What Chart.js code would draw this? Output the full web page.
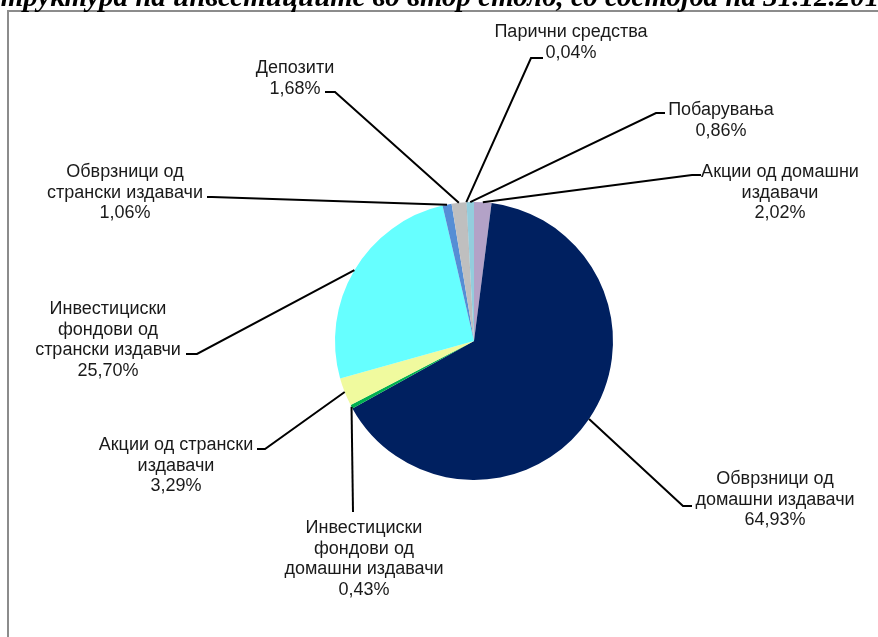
<!DOCTYPE html>
<html>
<head>
<meta charset="utf-8">
<script src="https://cdn.jsdelivr.net/npm/chart.js@4.4.1/dist/chart.umd.min.js"></script>
<style>
  html, body { margin: 0; padding: 0; background: #fff; overflow: hidden; }
  #frame { position: absolute; left: 7px; top: 10px; width: 900px; height: 700px;
           border-left: 2px solid #8c8c8c; border-top: 2px solid #8c8c8c; }
  canvas { position: absolute; left: 0; top: 0; }
</style>
</head>
<body>
<div id="frame"></div>
<canvas id="pie" width="878" height="637"></canvas>
<script>
// slices, clockwise from 12 o'clock
const categories = [
  "Акции од домашни\nиздавачи",
  "Обврзници од\nдомашни издавачи",
  "Инвестициски\nфондови од\nдомашни издавачи",
  "Акции од странски\nиздавачи",
  "Инвестициски\nфондови од\nстрански издавчи",
  "Обврзници од\nстрански издавачи",
  "Депозити",
  "Парични средства",
  "Побарувања"
];
const values = [2.02, 64.93, 0.43, 3.29, 25.70, 1.06, 1.68, 0.04, 0.86];
const colors = ["#b3a2c7", "#002060", "#00b050", "#f0fa9e", "#66ffff",
                "#558ed5", "#bfbfbf", "#7f7f7f", "#93cddd"];
const title = "Структура на инвестициите во втор столб, со состојба на 31.12.2012";

// label placement: text centre x, first line y, leader elbow and end
const labelPos = [
  { cx: 780, y: 172, elbow: [692, 175], end: [701, 175] },
  { cx: 775, y: 479, elbow: [683, 506], end: [692, 506] },
  { cx: 364, y: 528, elbow: [353, 512], end: [353, 512] },
  { cx: 176, y: 445, elbow: [265, 449], end: [257, 449] },
  { cx: 108, y: 309, elbow: [197, 354], end: [186, 354] },
  { cx: 125, y: 172, elbow: [212, 197], end: [207, 197] },
  { cx: 295, y: 68,  elbow: [335, 92],  end: [325, 92] },
  { cx: 571, y: 32,  elbow: [531, 58],  end: [543, 58] },
  { cx: 721, y: 110, elbow: [656, 113], end: [665, 113] }
];

function pct(v) {
  return v.toFixed(2).replace(".", ",") + "%";
}

const labelsPlugin = {
  id: "leaderLabels",
  afterDraw(chart) {
    const ctx = chart.ctx;
    const meta = chart.getDatasetMeta(0);
    ctx.save();
    ctx.strokeStyle = "#000";
    ctx.lineWidth = 2;
    meta.data.forEach((arc, i) => {
      const p = labelPos[i];
      const mid = (arc.startAngle + arc.endAngle) / 2;
      const px = arc.x + Math.cos(mid) * arc.outerRadius;
      const py = arc.y + Math.sin(mid) * arc.outerRadius;
      ctx.beginPath();
      ctx.moveTo(px, py);
      ctx.lineTo(p.elbow[0], p.elbow[1]);
      ctx.lineTo(p.end[0], p.end[1]);
      ctx.stroke();
    });

    ctx.fillStyle = "#1a1a1a";
    ctx.font = "18px 'Liberation Sans', Arial, sans-serif";
    ctx.textAlign = "center";
    ctx.textBaseline = "middle";
    meta.data.forEach((arc, i) => {
      const p = labelPos[i];
      const lines = categories[i].split("\n").concat(pct(values[i]));
      lines.forEach((line, k) => {
        ctx.fillText(line, p.cx, p.y + k * 20.7);
      });
    });

    // title, cut off by the top of the picture
    ctx.font = "italic bold 29px 'Liberation Serif', serif";
    ctx.textAlign = "left";
    ctx.textBaseline = "alphabetic";
    ctx.fillStyle = "#000";
    ctx.fillText(title, -19, 6);
    ctx.restore();
  }
};

new Chart(document.getElementById("pie"), {
  type: "pie",
  data: {
    labels: categories,
    datasets: [{ data: values, backgroundColor: colors, borderWidth: 0 }]
  },
  options: {
    responsive: false,
    animation: false,
    devicePixelRatio: 1,
    layout: { padding: { left: 335, right: 265, top: 202, bottom: 157 } },
    plugins: { legend: { display: false }, tooltip: { enabled: false } }
  },
  plugins: [labelsPlugin]
});
</script>
</body>
</html>
